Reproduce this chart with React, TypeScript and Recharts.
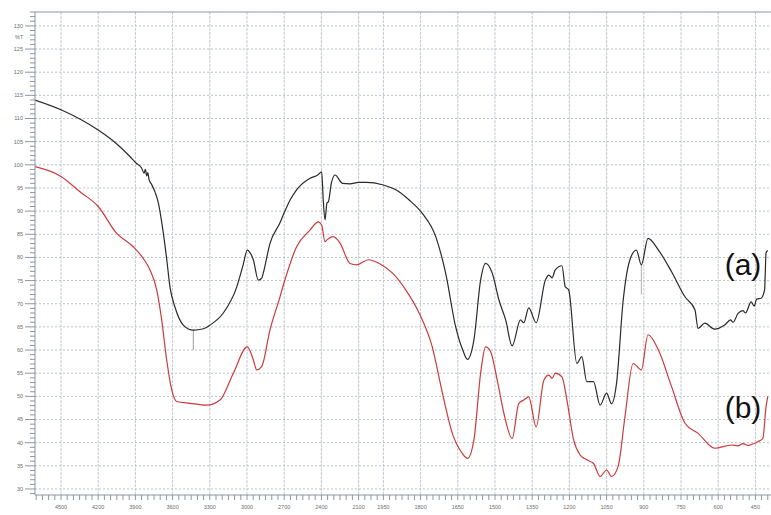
import React from "react";
import { LineChart, Line, XAxis, YAxis, CartesianGrid, ReferenceLine, ReferenceDot } from "recharts";

// spectrum (a): wavenumber (1/cm) and %T
const wavenumbersA = [
  4710, 4500, 4200, 4050, 3944, 3895, 3850, 3830, 3820, 3809, 3800, 3790, 3768, 3740, 3715, 3690,
  3675, 3647, 3621, 3581, 3514, 3433, 3350, 3298, 3191, 3083, 3030, 2998, 2970, 2949, 2909, 2880,
  2869, 2815, 2734, 2707, 2650, 2600, 2492, 2430, 2398, 2385, 2371, 2355, 2344, 2320, 2290, 2230,
  2169, 2100, 2035, 1954, 1900, 1846, 1793, 1739, 1699, 1659, 1630, 1611, 1585, 1558, 1538, 1511,
  1484, 1457, 1431, 1397, 1384, 1364, 1334, 1297, 1283, 1270, 1257, 1230, 1217, 1203, 1170, 1150,
  1130, 1103, 1076, 1050, 1030, 1010, 983, 956, 930, 910, 883, 841, 788, 734, 694, 681, 654, 614,
  574, 550, 540, 520, 500, 490, 467, 455, 445, 427, 413, 407, 400,
];
const transmittanceA = [
  114.0, 111.9, 107.5, 104.5, 101.8, 100.4, 99.3, 98.2, 99.0, 97.6, 98.3, 96.8, 95.7, 94.0, 91.8, 88.0,
  85.3, 79.5, 73.6, 69.3, 65.4, 64.3, 64.6, 65.4, 68.0, 73.6, 78.5, 81.6, 80.8, 79.5, 75.1, 75.6,
  76.6, 83.0, 87.5, 89.2, 92.5, 94.6, 97.1, 97.8, 98.5, 92.4, 88.1, 91.8, 92.0, 96.0, 97.8, 96.0,
  95.9, 96.2, 96.2, 95.7, 94.6, 92.4, 89.5, 84.5, 76.6, 65.1, 60.0, 58.0, 62.2, 75.1, 78.7, 76.6,
  70.8, 66.5, 60.9, 66.5, 65.9, 69.1, 65.9, 75.1, 76.2, 75.6, 77.3, 78.2, 73.7, 73.0, 57.1, 58.6,
  53.2, 53.2, 48.1, 50.7, 48.4, 52.8, 70.8, 79.5, 81.6, 78.4, 84.1, 81.6, 76.9, 71.5, 68.7, 64.7, 65.8, 64.5,
  65.4, 66.5, 66.0, 67.9, 68.5, 68.0, 70.4, 69.5, 71.0, 71.2, 73.0, 81.0, 81.5,
];

// spectrum (b)
const wavenumbersB = [
  4710, 4500, 4347, 4200, 4051, 3917, 3837, 3782, 3728, 3688, 3648, 3607, 3567, 3460, 3325, 3218,
  3110, 2998, 2949, 2922, 2882, 2815, 2734, 2707, 2600, 2492, 2425, 2398, 2371, 2355, 2304, 2250,
  2169, 2115, 2022, 1967, 1913, 1860, 1806, 1753, 1712, 1672, 1632, 1611, 1585, 1558, 1538, 1518,
  1491, 1464, 1431, 1404, 1384, 1364, 1334, 1303, 1283, 1270, 1257, 1230, 1210, 1183, 1156, 1130,
  1103, 1076, 1050, 1030, 1003, 976, 943, 910, 883, 841, 788, 734, 681, 614, 547, 520, 500, 480,
  467, 440, 420, 407, 400,
];
const transmittanceB = [
  99.6, 97.5, 94.2, 91.0, 85.2, 82.3, 79.8, 77.3, 73.0, 66.5, 57.9, 51.4, 48.9, 48.5, 48.1, 49.2,
  55.0, 60.7, 57.9, 55.7, 56.4, 64.3, 71.5, 74.0, 82.3, 85.9, 87.7, 87.0, 83.4, 83.8, 84.5, 83.1,
  78.7, 78.4, 79.5, 78.7, 76.6, 73.0, 68.0, 60.7, 50.7, 42.0, 37.7, 36.6, 40.6, 55.0, 60.7, 59.7,
  53.5, 46.3, 40.9, 48.5, 49.2, 49.9, 43.4, 53.5, 54.6, 53.9, 55.0, 54.2, 49.2, 40.6, 37.3, 36.3,
  35.5, 32.7, 34.1, 32.7, 35.0, 45.6, 57.1, 55.7, 63.3, 60.0, 52.1, 44.2, 42.0, 38.8, 39.5, 39.3, 39.8, 39.4,
  39.6, 40.2, 40.9, 47.8, 50.0,
];

const xTickLabels = [4500, 4200, 3900, 3600, 3300, 3000, 2700, 2400, 2100, 1950, 1800, 1650, 1500, 1350, 1200, 1050, 900, 750, 600, 450];
const yTickLabels = [30, 35, 40, 45, 50, 55, 60, 65, 70, 75, 80, 85, 90, 95, 100, 105, 110, 115, 120, 125, 130];

// the instrument draws 4500-2000 at half the scale of 2000-400
const toPos = (wn: number) => (wn >= 2000 ? (4500 - wn) / 300 : 8 + 1 / 3 + (2000 - wn) / 150);

const dataA = wavenumbersA.map((w, i) => ({ p: toPos(w), t: transmittanceA[i] }));
const dataB = wavenumbersB.map((w, i) => ({ p: toPos(w), t: transmittanceB[i] }));

const xTicks = Array.from({ length: 119 }, (_, i) => (i - 4) / 6);
const yTicks = Array.from({ length: 105 }, (_, i) => 29 + i);

const axisColor = "#8b95a6";
const labelColor = "#6d6d6d";

const XTick = (props: any) => {
  const { x, y, payload } = props;
  const label = xTickLabels.find((l) => Math.abs(toPos(l) - payload.value) < 1e-6);
  return (
    <g>
      <line x1={x} y1={y} x2={x} y2={y + 5} stroke={axisColor} />
      {label !== undefined && (
        <text x={x} y={y + 14} textAnchor="middle" fontSize={5.5} fill={labelColor} fontFamily="Liberation Sans">
          {label}
        </text>
      )}
    </g>
  );
};

const YTick = (props: any) => {
  const { x, y, payload } = props;
  const v = payload.value;
  const major = yTickLabels.includes(v);
  return (
    <g>
      <line x1={x - (major ? 10 : 5)} y1={y} x2={x} y2={y} stroke={axisColor} />
      {major && (
        <text x={x - 12} y={y} dy="0.35em" textAnchor="end" fontSize={5.5} fill={labelColor} fontFamily="Liberation Sans">
          {v}
        </text>
      )}
    </g>
  );
};

export default function App() {
  return (
    <div style={{ position: "absolute", left: 0, top: 0, background: "#fff" }}>
      <LineChart width={771} height={515} margin={{ top: 12, right: 0, bottom: 0, left: 0 }}>
        <CartesianGrid vertical={false} horizontalValues={yTickLabels} stroke="#b9c1cc" strokeDasharray="2 2" />
        <CartesianGrid horizontal={false} verticalValues={xTickLabels.map(toPos)} stroke="#c3cad5" strokeDasharray="3 1" />
        <XAxis
          type="number"
          dataKey="p"
          domain={[-0.699, 19.086]}
          allowDataOverflow
          ticks={xTicks}
          interval={0}
          tickSize={0}
          tickMargin={0}
          height={20}
          axisLine={{ stroke: axisColor }}
          tick={<XTick />}
        />
        <YAxis
          type="number"
          domain={[28.7, 133]}
          allowDataOverflow
          ticks={yTicks}
          interval={0}
          tickSize={0}
          tickMargin={0}
          width={35}
          axisLine={{ stroke: axisColor }}
          tick={<YTick />}
          label={{
            content: () => (
              <text x={15} y={39} fontSize={5.5} fill={labelColor} fontFamily="Liberation Sans">
                %T
              </text>
            ),
          }}
        />
        <ReferenceLine y={133} stroke={axisColor} />
        <ReferenceLine segment={[{ x: toPos(3433), y: 64.3 }, { x: toPos(3433), y: 60 }]} stroke="#9a9a9a" />
        <ReferenceLine segment={[{ x: toPos(910), y: 78.4 }, { x: toPos(910), y: 72 }]} stroke="#b0b0b0" />
        <Line data={dataA} dataKey="t" type="monotone" stroke="#2a2a2a" strokeWidth={1.2} dot={false} isAnimationActive={false} />
        <Line data={dataB} dataKey="t" type="monotone" stroke="#cc3a3a" strokeWidth={1.2} dot={false} isAnimationActive={false} />
        <ReferenceDot
          x={toPos(500)}
          y={78.4}
          r={0}
          fill="none"
          stroke="none"
          label={{ value: "(a)", position: "center", fontSize: 30, fill: "#111", fontFamily: "Liberation Sans" }}
        />
        <ReferenceDot
          x={toPos(500)}
          y={47.7}
          r={0}
          fill="none"
          stroke="none"
          label={{ value: "(b)", position: "center", fontSize: 30, fill: "#111", fontFamily: "Liberation Sans" }}
        />
      </LineChart>
    </div>
  );
}
